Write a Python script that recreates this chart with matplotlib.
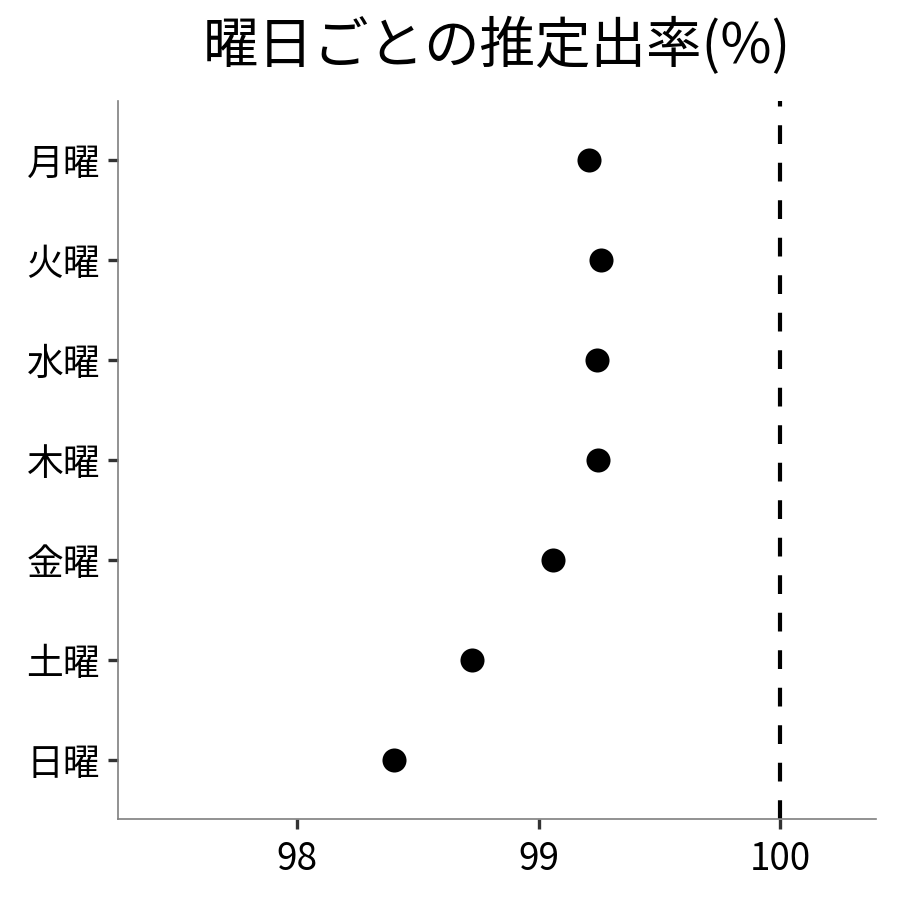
import matplotlib
matplotlib.use('Agg')
import matplotlib.pyplot as plt

plt.rcParams['font.family'] = ['Noto Sans CJK JP', 'DejaVu Sans']

days = ['月曜', '火曜', '水曜', '木曜', '金曜', '土曜', '日曜']
rates = [99.21, 99.26, 99.24, 99.245, 99.06, 98.725, 98.40]
x_ticks = [98, 99, 100]

fig = plt.figure(figsize=(9, 9), dpi=100)
ax = fig.add_axes([118 / 900, 81 / 900, 758 / 900, 718 / 900])

ypos = list(range(len(days)))[::-1]
ax.scatter(rates, ypos, s=300, color='black', zorder=3, linewidths=0)
ax.axvline(100, color='black', linewidth=3, dashes=(4.5, 4.5), zorder=2)

ax.set_xlim(97.259, 100.397)
ax.set_ylim(-0.59, len(days) - 1 + 0.59)
ax.set_yticks(ypos)
ax.set_yticklabels(days, fontsize=26.5)
ax.set_xticks(x_ticks)
ax.set_xticklabels([str(t) for t in x_ticks], fontsize=26.5)

for s in ['top', 'right']:
    ax.spines[s].set_visible(False)
for s in ['left', 'bottom']:
    ax.spines[s].set_color('#7f7f7f')
    ax.spines[s].set_linewidth(1.2)
ax.tick_params(axis='both', length=7, width=2.4, color='#333333')
ax.tick_params(axis='y', pad=6)
ax.tick_params(axis='x', pad=8)

fig.text(497 / 900, 1 - 47 / 900, '曜日ごとの推定出率(%)', fontsize=40,
         ha='center', va='center')

fig.savefig('out.png', dpi=100)
